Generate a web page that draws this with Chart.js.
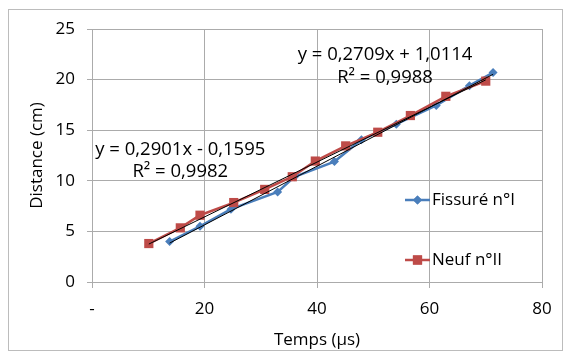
<!DOCTYPE html>
<html>
<head>
<meta charset="utf-8">
<script src="https://cdn.jsdelivr.net/npm/chart.js@4.4.0/dist/chart.umd.min.js"></script>
<style>
  html, body { margin: 0; padding: 0; background: #fff; }
  #wrap { width: 569px; height: 359px; }
</style>
</head>
<body>
<div id="wrap"><canvas id="chart" width="569" height="359"></canvas></div>
<script>
// Data
const timesFissure = [13.8, 19.2, 24.7, 33.0, 36.0, 43.1, 47.9, 54.1, 61.2, 67.1, 71.3];
const distFissure  = [4.0, 5.5, 7.2, 8.9, 10.4, 11.9, 14.05, 15.6, 17.45, 19.4, 20.7];
const timesNeuf = [10.1, 15.7, 19.2, 25.2, 30.7, 35.6, 39.7, 45.1, 50.8, 56.6, 62.9, 70.0];
const distNeuf  = [3.8, 5.35, 6.6, 7.85, 9.15, 10.4, 11.95, 13.45, 14.8, 16.45, 18.35, 19.85];

// trendline coefficients (slope, intercept) as printed on the chart
const fitFissure = [0.2901, -0.1595];
const fitNeuf = [0.2709, 1.0114];
const r2Fissure = '0,9982';
const r2Neuf = '0,9988';

const seriesLabels = ['Fissuré n°I', 'Neuf n°II'];
const xTicks = [0, 20, 40, 60, 80];
const yTicks = [0, 5, 10, 15, 20, 25];

const FONT = "'Open Sans', sans-serif";
const BLUE = '#4a7ebb';
const RED = '#be4b48';

const toPoints = (xs, ys) => xs.map((x, i) => ({ x: x, y: ys[i] }));
const trendPoints = (xs, fit) => {
  const lo = Math.min(...xs), hi = Math.max(...xs);
  return [{ x: lo, y: fit[0] * lo + fit[1] }, { x: hi, y: fit[0] * hi + fit[1] }];
};
const fmt = (v) => v.toFixed(4).replace('.', ',');
const eqText = (fit) => 'y = ' + fmt(fit[0]) + 'x ' + (fit[1] < 0 ? '- ' : '+ ') + fmt(Math.abs(fit[1]));

// border, equations and the legend (drawn over the plot like Excel does)
const decor = {
  id: 'decor',
  beforeDraw(chart) {
    const ctx = chart.ctx;
    ctx.save();
    ctx.fillStyle = '#fff';
    ctx.fillRect(0, 0, chart.width, chart.height);
    ctx.strokeStyle = '#bcbcbc';
    ctx.lineWidth = 1;
    ctx.strokeRect(8.5, 9.5, 554, 341);
    ctx.restore();
  },
  afterDraw(chart) {
    const ctx = chart.ctx;
    const xs = chart.scales.x, ys = chart.scales.y;
    ctx.save();
    ctx.font = '18.5px ' + FONT;
    ctx.fillStyle = '#000';
    ctx.textBaseline = 'middle';
    ctx.textAlign = 'center';
    // equation labels
    const labels = [
      [eqText(fitFissure), 15.7, 13.07],
      ['R² = ' + r2Fissure, 15.7, 10.9],
      [eqText(fitNeuf), 52.1, 22.5],
      ['R² = ' + r2Neuf, 52.1, 20.2]
    ];
    labels.forEach(l => ctx.fillText(l[0], xs.getPixelForValue(l[1]), ys.getPixelForValue(l[2])));

    // legend
    const items = [
      { text: seriesLabels[0], color: BLUE, style: 'rectRot', r: 4.5, y: 200 },
      { text: seriesLabels[1], color: RED, style: 'rect', r: 6.5, y: 260 }
    ];
    ctx.font = '17px ' + FONT;
    ctx.textAlign = 'left';
    items.forEach(it => {
      ctx.strokeStyle = it.color;
      ctx.lineWidth = 2.5;
      ctx.beginPath();
      ctx.moveTo(405, it.y);
      ctx.lineTo(430, it.y);
      ctx.stroke();
      ctx.fillStyle = it.color;
      Chart.helpers.drawPoint(ctx, { pointStyle: it.style, radius: it.r, borderWidth: 0 }, 417.5, it.y);
      ctx.fill();
      ctx.fillStyle = '#000';
      ctx.fillText(it.text, 432, it.y);
    });
    ctx.restore();
  }
};

new Chart(document.getElementById('chart'), {
  type: 'scatter',
  data: {
    datasets: [
      {
        label: 'trend ' + seriesLabels[0],
        data: trendPoints(timesFissure, fitFissure),
        showLine: true,
        borderColor: '#000',
        borderWidth: 1,
        pointRadius: 0,
        order: 0
      },
      {
        label: 'trend ' + seriesLabels[1],
        data: trendPoints(timesNeuf, fitNeuf),
        showLine: true,
        borderColor: '#000',
        borderWidth: 1,
        pointRadius: 0,
        order: 0
      },
      {
        label: seriesLabels[1],
        data: toPoints(timesNeuf, distNeuf),
        showLine: true,
        borderColor: RED,
        backgroundColor: RED,
        borderWidth: 2.5,
        pointStyle: 'rect',
        pointRadius: 6.5,
        pointBorderWidth: 0,
        order: 1
      },
      {
        label: seriesLabels[0],
        data: toPoints(timesFissure, distFissure),
        showLine: true,
        borderColor: BLUE,
        backgroundColor: BLUE,
        borderWidth: 2.5,
        pointStyle: 'rectRot',
        pointRadius: 4.5,
        pointBorderWidth: 0,
        order: 2
      }
    ]
  },
  options: {
    responsive: false,
    animation: false,
    layout: { padding: { left: 8, top: 29, right: 27, bottom: 9 } },
    plugins: {
      legend: { display: false },
      tooltip: { enabled: false }
    },
    scales: {
      x: {
        type: 'linear',
        min: xTicks[0],
        max: xTicks[xTicks.length - 1],
        afterBuildTicks: (s) => { s.ticks = xTicks.map(v => ({ value: v })); },
        afterFit: (s) => { s.height = 68; },
        grid: { color: '#ababab', lineWidth: 1, tickLength: 6 },
        border: { color: '#ababab' },
        ticks: {
          color: '#000',
          font: { family: FONT, size: 17 },
          padding: 11,
          callback: (v) => v === 0 ? '-' : v
        },
        title: {
          display: true,
          text: 'Temps (µs)',
          color: '#000',
          font: { family: FONT, size: 17 },
          padding: { top: 0, bottom: 0 }
        }
      },
      y: {
        min: yTicks[0],
        max: yTicks[yTicks.length - 1],
        afterBuildTicks: (s) => { s.ticks = yTicks.map(v => ({ value: v })); },
        afterFit: (s) => { s.width = 84; },
        grid: { color: '#ababab', lineWidth: 1, tickLength: 5 },
        border: { color: '#ababab' },
        ticks: {
          color: '#000',
          font: { family: FONT, size: 17 },
          padding: 12
        },
        title: {
          display: true,
          text: 'Distance (cm)',
          color: '#000',
          font: { family: FONT, size: 17 },
          padding: { top: 19, bottom: 0 }
        }
      }
    }
  },
  plugins: [decor]
});
</script>
</body>
</html>
